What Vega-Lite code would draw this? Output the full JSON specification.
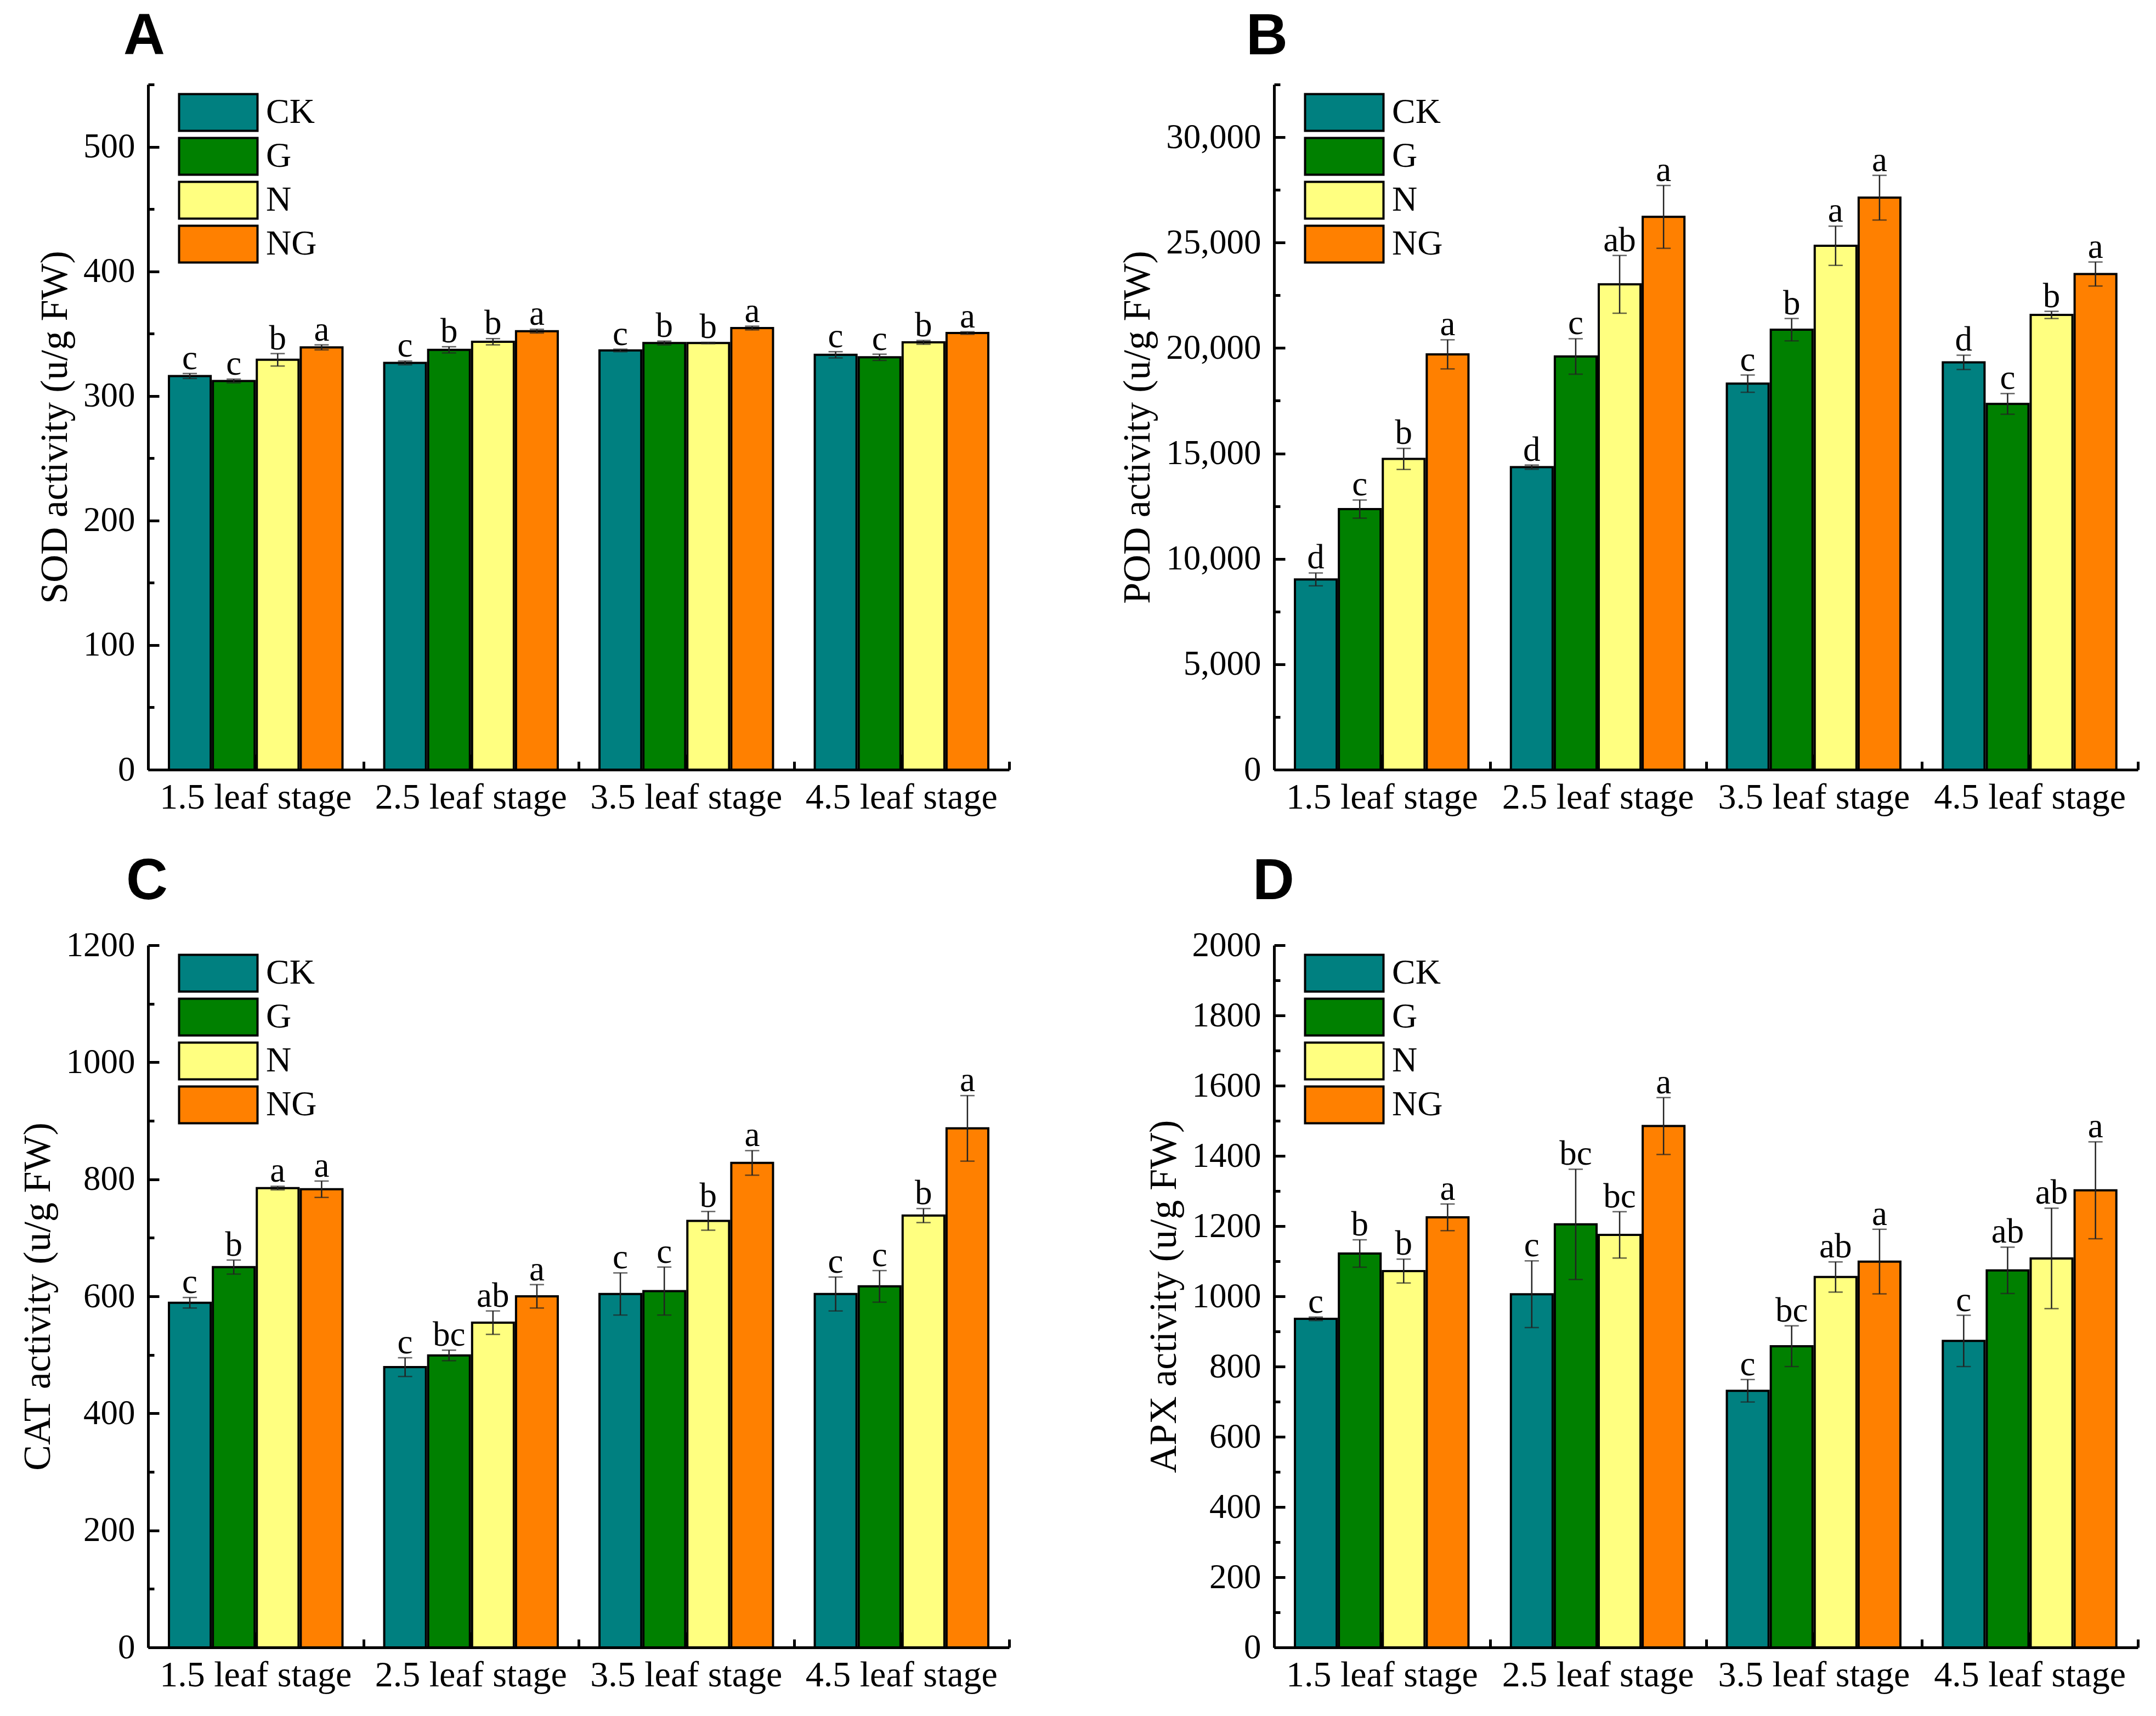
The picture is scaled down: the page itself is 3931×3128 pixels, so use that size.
{
  "$schema": "https://vega.github.io/schema/vega-lite/v6.json",
  "background": "white",
  "padding": {"left": 34, "top": 14, "right": 10, "bottom": 10},
  "data": {"values": [
    {"p":"A","s":"1.5 leaf stage","t":"CK","v":316,"lo":314,"hi":318,"sig":"c"},
    {"p":"A","s":"1.5 leaf stage","t":"G","v":312,"lo":310.5,"hi":313.5,"sig":"c"},
    {"p":"A","s":"1.5 leaf stage","t":"N","v":329,"lo":324,"hi":334,"sig":"b"},
    {"p":"A","s":"1.5 leaf stage","t":"NG","v":339,"lo":337,"hi":341,"sig":"a"},
    {"p":"A","s":"2.5 leaf stage","t":"CK","v":326.5,"lo":325,"hi":328,"sig":"c"},
    {"p":"A","s":"2.5 leaf stage","t":"G","v":337,"lo":334.5,"hi":339.5,"sig":"b"},
    {"p":"A","s":"2.5 leaf stage","t":"N","v":343.5,"lo":341,"hi":346,"sig":"b"},
    {"p":"A","s":"2.5 leaf stage","t":"NG","v":352,"lo":350.5,"hi":353.5,"sig":"a"},
    {"p":"A","s":"3.5 leaf stage","t":"CK","v":336.5,"lo":335.5,"hi":337.5,"sig":"c"},
    {"p":"A","s":"3.5 leaf stage","t":"G","v":342.5,"lo":341,"hi":344,"sig":"b"},
    {"p":"A","s":"3.5 leaf stage","t":"N","v":342.5,"lo":342,"hi":343,"sig":"b"},
    {"p":"A","s":"3.5 leaf stage","t":"NG","v":354.5,"lo":353,"hi":356,"sig":"a"},
    {"p":"A","s":"4.5 leaf stage","t":"CK","v":333,"lo":330.5,"hi":335.5,"sig":"c"},
    {"p":"A","s":"4.5 leaf stage","t":"G","v":331,"lo":328.5,"hi":333.5,"sig":"c"},
    {"p":"A","s":"4.5 leaf stage","t":"N","v":343,"lo":341.5,"hi":344.5,"sig":"b"},
    {"p":"A","s":"4.5 leaf stage","t":"NG","v":350.5,"lo":349.5,"hi":351.5,"sig":"a"},
    {"p":"B","s":"1.5 leaf stage","t":"CK","v":9025,"lo":8720,"hi":9330,"sig":"d"},
    {"p":"B","s":"1.5 leaf stage","t":"G","v":12360,"lo":11930,"hi":12790,"sig":"c"},
    {"p":"B","s":"1.5 leaf stage","t":"N","v":14740,"lo":14240,"hi":15240,"sig":"b"},
    {"p":"B","s":"1.5 leaf stage","t":"NG","v":19700,"lo":19010,"hi":20390,"sig":"a"},
    {"p":"B","s":"2.5 leaf stage","t":"CK","v":14350,"lo":14250,"hi":14450,"sig":"d"},
    {"p":"B","s":"2.5 leaf stage","t":"G","v":19600,"lo":18760,"hi":20440,"sig":"c"},
    {"p":"B","s":"2.5 leaf stage","t":"N","v":23020,"lo":21650,"hi":24390,"sig":"ab"},
    {"p":"B","s":"2.5 leaf stage","t":"NG","v":26220,"lo":24730,"hi":27710,"sig":"a"},
    {"p":"B","s":"3.5 leaf stage","t":"CK","v":18310,"lo":17900,"hi":18720,"sig":"c"},
    {"p":"B","s":"3.5 leaf stage","t":"G","v":20870,"lo":20340,"hi":21400,"sig":"b"},
    {"p":"B","s":"3.5 leaf stage","t":"N","v":24850,"lo":23920,"hi":25780,"sig":"a"},
    {"p":"B","s":"3.5 leaf stage","t":"NG","v":27130,"lo":26070,"hi":28190,"sig":"a"},
    {"p":"B","s":"4.5 leaf stage","t":"CK","v":19320,"lo":18980,"hi":19660,"sig":"d"},
    {"p":"B","s":"4.5 leaf stage","t":"G","v":17350,"lo":16860,"hi":17840,"sig":"c"},
    {"p":"B","s":"4.5 leaf stage","t":"N","v":21570,"lo":21400,"hi":21740,"sig":"b"},
    {"p":"B","s":"4.5 leaf stage","t":"NG","v":23510,"lo":22940,"hi":24080,"sig":"a"},
    {"p":"C","s":"1.5 leaf stage","t":"CK","v":589,"lo":580,"hi":598,"sig":"c"},
    {"p":"C","s":"1.5 leaf stage","t":"G","v":650,"lo":638,"hi":662,"sig":"b"},
    {"p":"C","s":"1.5 leaf stage","t":"N","v":785,"lo":782,"hi":788,"sig":"a"},
    {"p":"C","s":"1.5 leaf stage","t":"NG","v":783,"lo":769,"hi":797,"sig":"a"},
    {"p":"C","s":"2.5 leaf stage","t":"CK","v":479,"lo":463,"hi":495,"sig":"c"},
    {"p":"C","s":"2.5 leaf stage","t":"G","v":499,"lo":490,"hi":508,"sig":"bc"},
    {"p":"C","s":"2.5 leaf stage","t":"N","v":555,"lo":535,"hi":575,"sig":"ab"},
    {"p":"C","s":"2.5 leaf stage","t":"NG","v":600,"lo":580,"hi":620,"sig":"a"},
    {"p":"C","s":"3.5 leaf stage","t":"CK","v":604,"lo":568,"hi":640,"sig":"c"},
    {"p":"C","s":"3.5 leaf stage","t":"G","v":609,"lo":568,"hi":650,"sig":"c"},
    {"p":"C","s":"3.5 leaf stage","t":"N","v":729,"lo":713,"hi":745,"sig":"b"},
    {"p":"C","s":"3.5 leaf stage","t":"NG","v":828,"lo":807,"hi":849,"sig":"a"},
    {"p":"C","s":"4.5 leaf stage","t":"CK","v":604,"lo":575,"hi":633,"sig":"c"},
    {"p":"C","s":"4.5 leaf stage","t":"G","v":617,"lo":590,"hi":644,"sig":"c"},
    {"p":"C","s":"4.5 leaf stage","t":"N","v":738,"lo":726,"hi":750,"sig":"b"},
    {"p":"C","s":"4.5 leaf stage","t":"NG","v":887,"lo":831,"hi":943,"sig":"a"},
    {"p":"D","s":"1.5 leaf stage","t":"CK","v":936,"lo":931,"hi":941,"sig":"c"},
    {"p":"D","s":"1.5 leaf stage","t":"G","v":1122,"lo":1083,"hi":1161,"sig":"b"},
    {"p":"D","s":"1.5 leaf stage","t":"N","v":1072,"lo":1038,"hi":1106,"sig":"b"},
    {"p":"D","s":"1.5 leaf stage","t":"NG","v":1225,"lo":1187,"hi":1263,"sig":"a"},
    {"p":"D","s":"2.5 leaf stage","t":"CK","v":1006,"lo":911,"hi":1101,"sig":"c"},
    {"p":"D","s":"2.5 leaf stage","t":"G","v":1205,"lo":1048,"hi":1362,"sig":"bc"},
    {"p":"D","s":"2.5 leaf stage","t":"N","v":1175,"lo":1109,"hi":1241,"sig":"bc"},
    {"p":"D","s":"2.5 leaf stage","t":"NG","v":1485,"lo":1404,"hi":1566,"sig":"a"},
    {"p":"D","s":"3.5 leaf stage","t":"CK","v":731,"lo":699,"hi":763,"sig":"c"},
    {"p":"D","s":"3.5 leaf stage","t":"G","v":858,"lo":800,"hi":916,"sig":"bc"},
    {"p":"D","s":"3.5 leaf stage","t":"N","v":1055,"lo":1012,"hi":1098,"sig":"ab"},
    {"p":"D","s":"3.5 leaf stage","t":"NG","v":1099,"lo":1007,"hi":1191,"sig":"a"},
    {"p":"D","s":"4.5 leaf stage","t":"CK","v":873,"lo":800,"hi":946,"sig":"c"},
    {"p":"D","s":"4.5 leaf stage","t":"G","v":1074,"lo":1008,"hi":1140,"sig":"ab"},
    {"p":"D","s":"4.5 leaf stage","t":"N","v":1108,"lo":965,"hi":1251,"sig":"ab"},
    {"p":"D","s":"4.5 leaf stage","t":"NG","v":1302,"lo":1164,"hi":1440,"sig":"a"}
  ]},
  "columns": 2,
  "spacing": {"row": 320, "column": 483},
  "bounds": "flush",
  "resolve": {"scale": {"color": "independent"}, "legend": {"color": "independent"}},
  "concat": [
    {
      "width": 1570, "height": 1249,
      "title": {"text": "A", "anchor": "start", "frame": "group", "font": "Liberation Sans", "fontSize": 105, "fontWeight": "bold", "color": "black", "dx": -45, "offset": -52, "baseline": "alphabetic"},
      "transform": [{"filter": "datum.p === 'A'"}],
      "encoding": {"xOffset": {"field": "t", "type": "nominal", "scale": {"paddingInner": 0.05, "paddingOuter": 0.475}}},
      "resolve": {"axis": {"x": "independent", "y": "independent"}},
      "layer": [
        {
          "mark": {"type": "bar", "stroke": "black", "strokeWidth": 4},
          "encoding": {
            "x": {"field": "s", "type": "nominal", "scale": {"paddingInner": 0, "paddingOuter": 0}, "axis": {"orient": "bottom", "title": null, "ticks": false, "labelPadding": 18, "labelAngle": 0, "labelFontSize": 66, "labelLimit": 0}},
            "y": {"field": "v", "type": "quantitative", "scale": {"domain": [0, 550], "nice": false}, "axis": {"orient": "left", "title": "SOD activity (u/g FW)", "format": "d", "values": [0, 100, 200, 300, 400, 500], "ticks": false, "labelPadding": 24, "titlePadding": 15}},
            "color": {"field": "t", "type": "nominal", "scale": {"domain": ["CK", "G", "N", "NG"], "range": ["#008080", "#008000", "#FFFF80", "#FF8000"]}, "legend": {"title": null, "orient": "none", "legendX": 90, "legendY": 13, "symbolType": "M-2,-0.94H2V0.94H-2Z", "symbolSize": 5112, "symbolStrokeColor": "black", "symbolStrokeWidth": 4, "symbolOpacity": 1, "labelOffset": 49, "labelFont": "Liberation Serif", "labelFontSize": 64, "labelColor": "black", "rowPadding": -5}}
          }
        },
        {
          "mark": {"type": "rule", "color": "#222", "strokeWidth": 2.5},
          "encoding": {
            "x": {"field": "s", "type": "nominal", "axis": {"orient": "bottom", "title": null, "labels": false, "domain": false, "tickSize": -28}},
            "y": {"field": "lo", "type": "quantitative", "axis": {"orient": "left", "title": null, "labels": false, "domain": false, "values": [0, 100, 200, 300, 400, 500], "tickSize": -20}},
            "y2": {"field": "hi"}
          }
        },
        {
          "mark": {"type": "tick", "orient": "horizontal", "color": "#222", "thickness": 2.5, "size": 26},
          "encoding": {
            "x": {"field": "s", "type": "nominal", "axis": {"orient": "bottom", "title": null, "labels": false, "domain": false, "tickBand": "extent", "tickSize": -15}},
            "y": {"field": "lo", "type": "quantitative", "axis": {"orient": "left", "title": null, "labels": false, "domain": false, "values": [50, 150, 250, 350, 450, 550], "tickSize": -11}}
          }
        },
        {
          "mark": {"type": "tick", "orient": "horizontal", "color": "#222", "thickness": 2.5, "size": 26},
          "encoding": {
            "x": {"field": "s", "type": "nominal", "axis": null},
            "y": {"field": "hi", "type": "quantitative", "axis": null}
          }
        },
        {
          "mark": {"type": "text", "font": "Liberation Serif", "fontSize": 63, "baseline": "alphabetic", "dy": -8, "color": "black"},
          "encoding": {
            "x": {"field": "s", "type": "nominal", "axis": null},
            "y": {"field": "hi", "type": "quantitative", "axis": null},
            "text": {"field": "sig"}
          }
        }
      ]
    },
    {
      "width": 1575, "height": 1249,
      "title": {"text": "B", "anchor": "start", "frame": "group", "font": "Liberation Sans", "fontSize": 105, "fontWeight": "bold", "color": "black", "dx": -51, "offset": -52, "baseline": "alphabetic"},
      "transform": [{"filter": "datum.p === 'B'"}],
      "encoding": {"xOffset": {"field": "t", "type": "nominal", "scale": {"paddingInner": 0.05, "paddingOuter": 0.475}}},
      "resolve": {"axis": {"x": "independent", "y": "independent"}},
      "layer": [
        {
          "mark": {"type": "bar", "stroke": "black", "strokeWidth": 4},
          "encoding": {
            "x": {"field": "s", "type": "nominal", "scale": {"paddingInner": 0, "paddingOuter": 0}, "axis": {"orient": "bottom", "title": null, "ticks": false, "labelPadding": 18, "labelAngle": 0, "labelFontSize": 66, "labelLimit": 0}},
            "y": {"field": "v", "type": "quantitative", "scale": {"domain": [0, 32500], "nice": false}, "axis": {"orient": "left", "title": "POD activity (u/g FW)", "format": ",d", "values": [0, 5000, 10000, 15000, 20000, 25000, 30000], "ticks": false, "labelPadding": 24, "titlePadding": 15}},
            "color": {"field": "t", "type": "nominal", "scale": {"domain": ["CK", "G", "N", "NG"], "range": ["#008080", "#008000", "#FFFF80", "#FF8000"]}, "legend": {"title": null, "orient": "none", "legendX": 90, "legendY": 13, "symbolType": "M-2,-0.94H2V0.94H-2Z", "symbolSize": 5112, "symbolStrokeColor": "black", "symbolStrokeWidth": 4, "symbolOpacity": 1, "labelOffset": 49, "labelFont": "Liberation Serif", "labelFontSize": 64, "labelColor": "black", "rowPadding": -5}}
          }
        },
        {
          "mark": {"type": "rule", "color": "#222", "strokeWidth": 2.5},
          "encoding": {
            "x": {"field": "s", "type": "nominal", "axis": {"orient": "bottom", "title": null, "labels": false, "domain": false, "tickSize": -28}},
            "y": {"field": "lo", "type": "quantitative", "axis": {"orient": "left", "title": null, "labels": false, "domain": false, "values": [0, 5000, 10000, 15000, 20000, 25000, 30000], "tickSize": -20}},
            "y2": {"field": "hi"}
          }
        },
        {
          "mark": {"type": "tick", "orient": "horizontal", "color": "#222", "thickness": 2.5, "size": 26},
          "encoding": {
            "x": {"field": "s", "type": "nominal", "axis": {"orient": "bottom", "title": null, "labels": false, "domain": false, "tickBand": "extent", "tickSize": -15}},
            "y": {"field": "lo", "type": "quantitative", "axis": {"orient": "left", "title": null, "labels": false, "domain": false, "values": [2500, 7500, 12500, 17500, 22500, 27500, 32500], "tickSize": -11}}
          }
        },
        {
          "mark": {"type": "tick", "orient": "horizontal", "color": "#222", "thickness": 2.5, "size": 26},
          "encoding": {
            "x": {"field": "s", "type": "nominal", "axis": null},
            "y": {"field": "hi", "type": "quantitative", "axis": null}
          }
        },
        {
          "mark": {"type": "text", "font": "Liberation Serif", "fontSize": 63, "baseline": "alphabetic", "dy": -8, "color": "black"},
          "encoding": {
            "x": {"field": "s", "type": "nominal", "axis": null},
            "y": {"field": "hi", "type": "quantitative", "axis": null},
            "text": {"field": "sig"}
          }
        }
      ]
    },
    {
      "width": 1570, "height": 1280,
      "title": {"text": "C", "anchor": "start", "frame": "group", "font": "Liberation Sans", "fontSize": 105, "fontWeight": "bold", "color": "black", "dx": -40, "offset": -52, "baseline": "alphabetic"},
      "transform": [{"filter": "datum.p === 'C'"}],
      "encoding": {"xOffset": {"field": "t", "type": "nominal", "scale": {"paddingInner": 0.05, "paddingOuter": 0.475}}},
      "resolve": {"axis": {"x": "independent", "y": "independent"}},
      "layer": [
        {
          "mark": {"type": "bar", "stroke": "black", "strokeWidth": 4},
          "encoding": {
            "x": {"field": "s", "type": "nominal", "scale": {"paddingInner": 0, "paddingOuter": 0}, "axis": {"orient": "bottom", "title": null, "ticks": false, "labelPadding": 18, "labelAngle": 0, "labelFontSize": 66, "labelLimit": 0}},
            "y": {"field": "v", "type": "quantitative", "scale": {"domain": [0, 1200], "nice": false}, "axis": {"orient": "left", "title": "CAT activity (u/g FW)", "format": "d", "values": [0, 200, 400, 600, 800, 1000, 1200], "ticks": false, "labelPadding": 24, "titlePadding": 15}},
            "color": {"field": "t", "type": "nominal", "scale": {"domain": ["CK", "G", "N", "NG"], "range": ["#008080", "#008000", "#FFFF80", "#FF8000"]}, "legend": {"title": null, "orient": "none", "legendX": 90, "legendY": 13, "symbolType": "M-2,-0.94H2V0.94H-2Z", "symbolSize": 5112, "symbolStrokeColor": "black", "symbolStrokeWidth": 4, "symbolOpacity": 1, "labelOffset": 49, "labelFont": "Liberation Serif", "labelFontSize": 64, "labelColor": "black", "rowPadding": -5}}
          }
        },
        {
          "mark": {"type": "rule", "color": "#222", "strokeWidth": 2.5},
          "encoding": {
            "x": {"field": "s", "type": "nominal", "axis": {"orient": "bottom", "title": null, "labels": false, "domain": false, "tickSize": -28}},
            "y": {"field": "lo", "type": "quantitative", "axis": {"orient": "left", "title": null, "labels": false, "domain": false, "values": [0, 200, 400, 600, 800, 1000, 1200], "tickSize": -20}},
            "y2": {"field": "hi"}
          }
        },
        {
          "mark": {"type": "tick", "orient": "horizontal", "color": "#222", "thickness": 2.5, "size": 26},
          "encoding": {
            "x": {"field": "s", "type": "nominal", "axis": {"orient": "bottom", "title": null, "labels": false, "domain": false, "tickBand": "extent", "tickSize": -15}},
            "y": {"field": "lo", "type": "quantitative", "axis": {"orient": "left", "title": null, "labels": false, "domain": false, "values": [100, 300, 500, 700, 900, 1100], "tickSize": -11}}
          }
        },
        {
          "mark": {"type": "tick", "orient": "horizontal", "color": "#222", "thickness": 2.5, "size": 26},
          "encoding": {
            "x": {"field": "s", "type": "nominal", "axis": null},
            "y": {"field": "hi", "type": "quantitative", "axis": null}
          }
        },
        {
          "mark": {"type": "text", "font": "Liberation Serif", "fontSize": 63, "baseline": "alphabetic", "dy": -8, "color": "black"},
          "encoding": {
            "x": {"field": "s", "type": "nominal", "axis": null},
            "y": {"field": "hi", "type": "quantitative", "axis": null},
            "text": {"field": "sig"}
          }
        }
      ]
    },
    {
      "width": 1575, "height": 1280,
      "title": {"text": "D", "anchor": "start", "frame": "group", "font": "Liberation Sans", "fontSize": 105, "fontWeight": "bold", "color": "black", "dx": -39, "offset": -52, "baseline": "alphabetic"},
      "transform": [{"filter": "datum.p === 'D'"}],
      "encoding": {"xOffset": {"field": "t", "type": "nominal", "scale": {"paddingInner": 0.05, "paddingOuter": 0.475}}},
      "resolve": {"axis": {"x": "independent", "y": "independent"}},
      "layer": [
        {
          "mark": {"type": "bar", "stroke": "black", "strokeWidth": 4},
          "encoding": {
            "x": {"field": "s", "type": "nominal", "scale": {"paddingInner": 0, "paddingOuter": 0}, "axis": {"orient": "bottom", "title": null, "ticks": false, "labelPadding": 18, "labelAngle": 0, "labelFontSize": 66, "labelLimit": 0}},
            "y": {"field": "v", "type": "quantitative", "scale": {"domain": [0, 2000], "nice": false}, "axis": {"orient": "left", "title": "APX activity (u/g FW)", "format": "d", "values": [0, 200, 400, 600, 800, 1000, 1200, 1400, 1600, 1800, 2000], "ticks": false, "labelPadding": 24, "titlePadding": 15}},
            "color": {"field": "t", "type": "nominal", "scale": {"domain": ["CK", "G", "N", "NG"], "range": ["#008080", "#008000", "#FFFF80", "#FF8000"]}, "legend": {"title": null, "orient": "none", "legendX": 90, "legendY": 13, "symbolType": "M-2,-0.94H2V0.94H-2Z", "symbolSize": 5112, "symbolStrokeColor": "black", "symbolStrokeWidth": 4, "symbolOpacity": 1, "labelOffset": 49, "labelFont": "Liberation Serif", "labelFontSize": 64, "labelColor": "black", "rowPadding": -5}}
          }
        },
        {
          "mark": {"type": "rule", "color": "#222", "strokeWidth": 2.5},
          "encoding": {
            "x": {"field": "s", "type": "nominal", "axis": {"orient": "bottom", "title": null, "labels": false, "domain": false, "tickSize": -28}},
            "y": {"field": "lo", "type": "quantitative", "axis": {"orient": "left", "title": null, "labels": false, "domain": false, "values": [0, 200, 400, 600, 800, 1000, 1200, 1400, 1600, 1800, 2000], "tickSize": -20}},
            "y2": {"field": "hi"}
          }
        },
        {
          "mark": {"type": "tick", "orient": "horizontal", "color": "#222", "thickness": 2.5, "size": 26},
          "encoding": {
            "x": {"field": "s", "type": "nominal", "axis": {"orient": "bottom", "title": null, "labels": false, "domain": false, "tickBand": "extent", "tickSize": -15}},
            "y": {"field": "lo", "type": "quantitative", "axis": {"orient": "left", "title": null, "labels": false, "domain": false, "values": [100, 300, 500, 700, 900, 1100, 1300, 1500, 1700, 1900], "tickSize": -11}}
          }
        },
        {
          "mark": {"type": "tick", "orient": "horizontal", "color": "#222", "thickness": 2.5, "size": 26},
          "encoding": {
            "x": {"field": "s", "type": "nominal", "axis": null},
            "y": {"field": "hi", "type": "quantitative", "axis": null}
          }
        },
        {
          "mark": {"type": "text", "font": "Liberation Serif", "fontSize": 63, "baseline": "alphabetic", "dy": -8, "color": "black"},
          "encoding": {
            "x": {"field": "s", "type": "nominal", "axis": null},
            "y": {"field": "hi", "type": "quantitative", "axis": null},
            "text": {"field": "sig"}
          }
        }
      ]
    }
  ],
  "config": {
    "view": {"stroke": null},
    "axis": {"domainColor": "black", "domainWidth": 5, "tickColor": "black", "tickWidth": 5, "labelFont": "Liberation Serif", "labelFontSize": 63, "labelColor": "black", "titleFont": "Liberation Serif", "titleFontSize": 70, "titleFontWeight": "normal", "titleColor": "black", "grid": false, "labelFlush": false, "labelOverlap": false}
  }
}
